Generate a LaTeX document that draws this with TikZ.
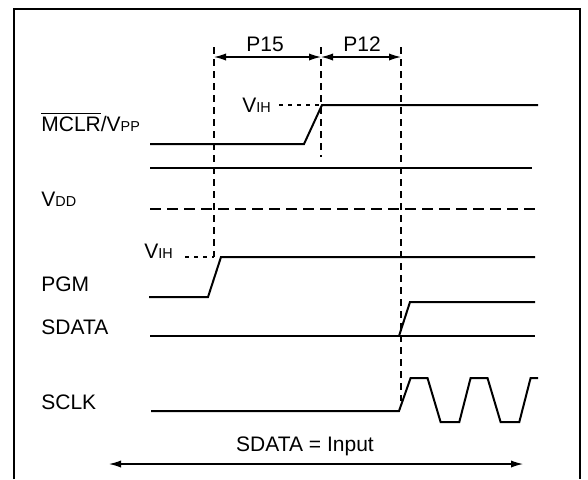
\documentclass[tikz,border=0pt]{standalone}
\usepackage{fontspec}
\setmainfont{Liberation Sans}
\usetikzlibrary{arrows.meta}

\newcommand{\lowcap}[1]{{\fontsize{7.2}{9}\selectfont #1}}

\begin{document}
\begin{tikzpicture}[x=0.5pt, y=-0.5pt,
  sig/.style={line width=1pt},
  guide/.style={line width=0.8pt, dash pattern=on 3.5pt off 2.5pt},
  level/.style={line width=0.8pt, dash pattern=on 2pt off 2.5pt},
  lbl/.style={anchor=west, inner sep=0pt, font=\fontsize{10.5}{12}\selectfont},
  tlbl/.style={inner sep=0pt, font=\fontsize{10.5}{12}\selectfont},
  span/.style={line width=0.6pt, {Latex[length=6pt,width=3.6pt]}-{Latex[length=6pt,width=3.6pt]}}]
\useasboundingbox (0,0) rectangle (588,479);

% frame
\draw[line width=1pt] (13.5,479) -- (13.5,9) -- (580,9) -- (580,479);

% timing guides
\coordinate (t1) at (214,47);
\coordinate (t2) at (321,47);
\coordinate (t3) at (401,47);
\draw[guide] (t1) -- (214,257);
\draw[guide] (t2) -- (321,157);
\draw[guide] (t3) -- (401,401);

\draw[span] (214,57) -- (321,57);
\draw[span] (321,57) -- (401,57);
\node[tlbl] (p15) at (265,44) {P15};
\node[tlbl] (p12) at (362,44) {P12};

% MCLR/VPP
\node[lbl] (mclr) at (41,122) {$\overline{\hbox{MCLR}}$/V\lowcap{PP}};
\node[lbl] (vih1) at (242,105) {V\lowcap{IH}};
\draw[level] (279,105) -- (321,105);
\draw[sig] (150,144) -- (304,144) -- (322,105) -- (538,105);

% VDD
\node[lbl] (vdd) at (41,199) {V\lowcap{DD}};
\draw[sig] (150,168) -- (532,168);
\draw[sig, dash pattern=on 5.5pt off 3pt] (150,209) -- (535,209);

% PGM
\node[lbl] (vih2) at (144,251) {V\lowcap{IH}};
\draw[level] (185,257) -- (214,257);
\node[lbl] (pgm) at (41,284) {PGM};
\draw[sig] (149,297) -- (208,297) -- (221,257) -- (535,257);

% SDATA
\node[lbl] (sdata) at (41,327) {SDATA};
\draw[sig] (150,336) -- (535,336);
\draw[sig] (399,336) -- (410,302) -- (535,302);

% SCLK
\node[lbl] (sclk) at (41,402) {SCLK};
\draw[sig] (151,411) -- (399,411) -- (410.6,378) -- (427.5,378) -- (440.6,422)
  -- (459.3,422) -- (470.6,378) -- (487.5,378) -- (500.6,422) -- (519.3,422)
  -- (530.6,378) -- (538,378);

% SDATA = Input
\coordinate (inL) at (109,464);
\coordinate (inR) at (523,464);
\draw[span] (inL) -- (inR);
\node[tlbl] (input) at (305,446) {SDATA = Input};
\end{tikzpicture}
\end{document}
